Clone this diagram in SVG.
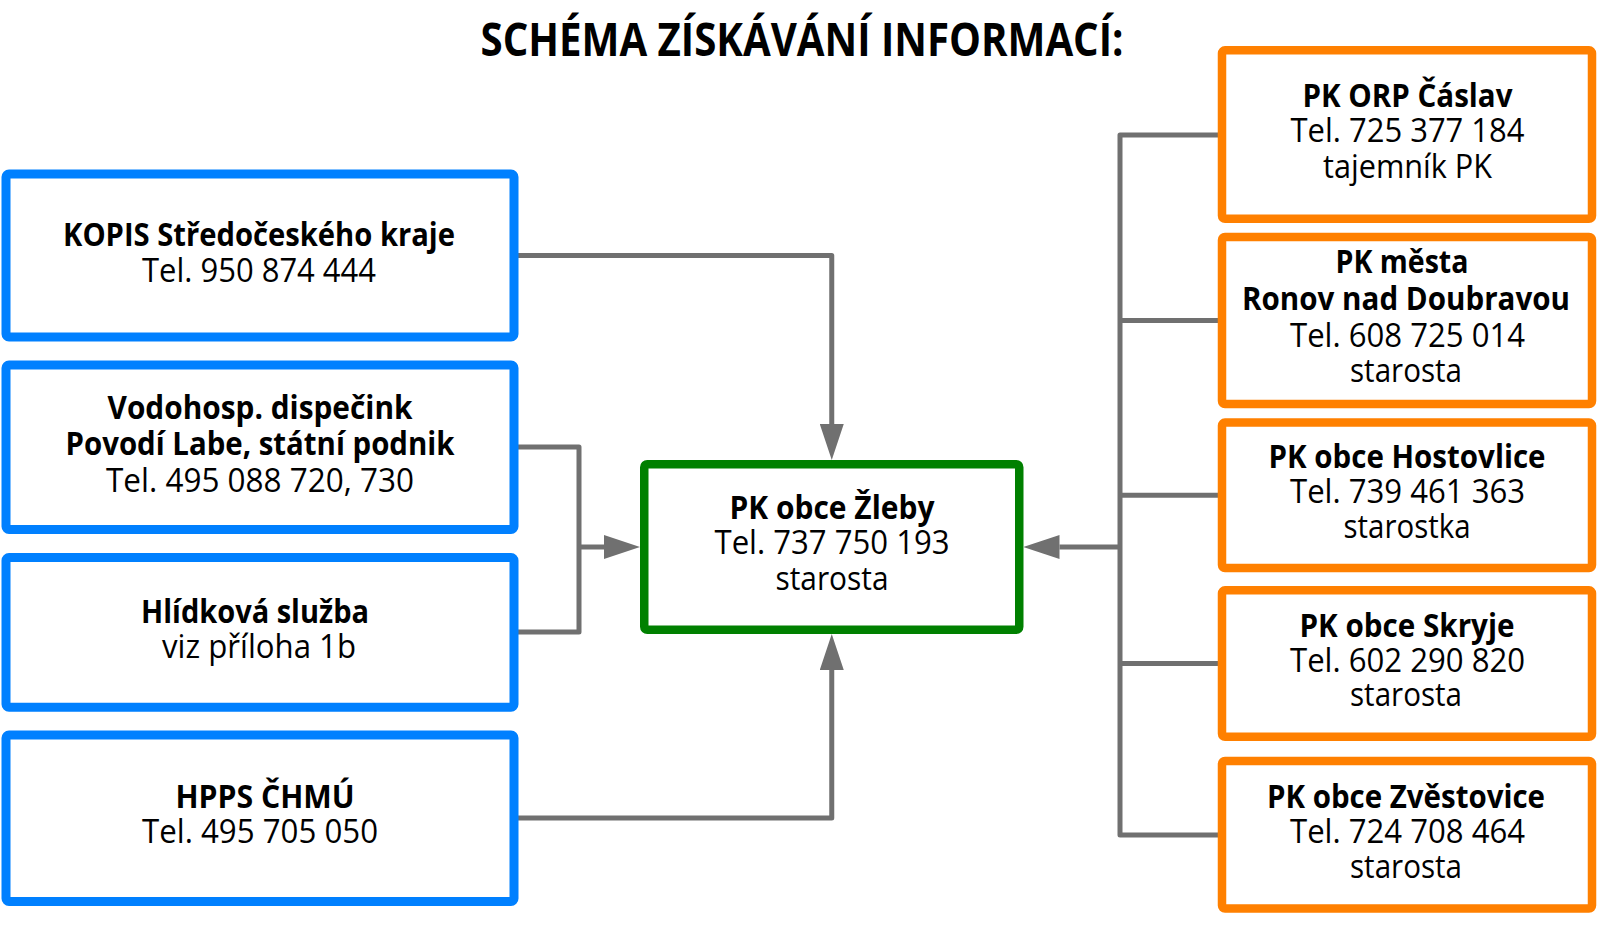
<svg xmlns="http://www.w3.org/2000/svg" width="1600" height="926" viewBox="0 0 1600 926">
<style>
  text { font-family: "Open Sans", "Noto Sans", "Liberation Sans", sans-serif; font-size: 32px; fill: #000; text-anchor: middle; }
  .b { font-weight: 700; }
  .title { font-size: 47px; font-weight: 700; }
  .blue { fill: #fff; stroke: #0080FF; stroke-width: 9; }
  .green { fill: #fff; stroke: #008000; stroke-width: 8.5; }
  .orange { fill: #fff; stroke: #FF8000; stroke-width: 8.5; }
  .conn { fill: none; stroke: #707070; stroke-width: 5; stroke-linejoin: round; }
</style>
<defs>
  <marker id="arr" markerUnits="userSpaceOnUse" markerWidth="36" markerHeight="24" refX="0" refY="12" orient="auto" viewBox="0 0 36 24">
    <path d="M0,0 L36,12 L0,24 z" fill="#707070"/>
  </marker>
</defs>
<rect width="1600" height="926" fill="#fff"/>
<text class="title" x="802" y="56" textLength="643" lengthAdjust="spacingAndGlyphs">SCHÉMA ZÍSKÁVÁNÍ INFORMACÍ:</text>

<g id="connectors">
  <path class="conn" d="M514,255.5 H831.75 V424" marker-end="url(#arr)"/>
  <path class="conn" d="M514,447 H579 V632 H514"/>
  <path class="conn" d="M579,547 H604" marker-end="url(#arr)"/>
  <path class="conn" d="M514,818 H831.75 V670" marker-end="url(#arr)"/>
  <path class="conn" d="M1222,135 H1120 V835 H1222"/>
  <path class="conn" d="M1120,320.5 H1222"/>
  <path class="conn" d="M1120,495.3 H1222"/>
  <path class="conn" d="M1120,663.5 H1222"/>
  <path class="conn" d="M1120,547 H1059.5" marker-end="url(#arr)"/>
</g>

<g id="kopis">
  <rect class="blue" x="6" y="174" width="508" height="163" rx="3"/>
  <text class="b" x="259" y="246" textLength="392" lengthAdjust="spacingAndGlyphs">KOPIS Středočeského kraje</text>
  <text x="259" y="281.7" textLength="234" lengthAdjust="spacingAndGlyphs">Tel. 950 874 444</text>
</g>
<g id="vodohosp">
  <rect class="blue" x="6" y="365" width="508" height="164.5" rx="3"/>
  <text class="b" x="260" y="419.3" textLength="305" lengthAdjust="spacingAndGlyphs">Vodohosp. dispečink</text>
  <text class="b" x="260" y="455" textLength="389" lengthAdjust="spacingAndGlyphs">Povodí Labe, státní podnik</text>
  <text x="260" y="491.7" textLength="308" lengthAdjust="spacingAndGlyphs">Tel. 495 088 720, 730</text>
</g>
<g id="hlidkova">
  <rect class="blue" x="6" y="557.5" width="508" height="149.7" rx="3"/>
  <text class="b" x="255" y="622.5" textLength="228" lengthAdjust="spacingAndGlyphs">Hlídková služba</text>
  <text x="259" y="658" textLength="194" lengthAdjust="spacingAndGlyphs">viz příloha 1b</text>
</g>
<g id="hpps">
  <rect class="blue" x="6" y="735" width="508" height="166.5" rx="3"/>
  <text class="b" x="265" y="807.7" textLength="179" lengthAdjust="spacingAndGlyphs">HPPS ČHMÚ</text>
  <text x="260" y="843.3" textLength="236" lengthAdjust="spacingAndGlyphs">Tel. 495 705 050</text>
</g>

<g id="zleby">
  <rect class="green" x="644.25" y="464.25" width="375" height="165.5" rx="3"/>
  <text class="b" x="832" y="519" textLength="205" lengthAdjust="spacingAndGlyphs">PK obce Žleby</text>
  <text x="832" y="554.3" textLength="235" lengthAdjust="spacingAndGlyphs">Tel. 737 750 193</text>
  <text x="832" y="590" textLength="113" lengthAdjust="spacingAndGlyphs">starosta</text>
</g>

<g id="caslav">
  <rect class="orange" x="1222" y="50.3" width="370" height="168.5" rx="3"/>
  <text class="b" x="1407.5" y="106.7" textLength="210" lengthAdjust="spacingAndGlyphs">PK ORP Čáslav</text>
  <text x="1407.5" y="141.7" textLength="234" lengthAdjust="spacingAndGlyphs">Tel. 725 377 184</text>
  <text x="1407.5" y="177.7" textLength="169" lengthAdjust="spacingAndGlyphs">tajemník PK</text>
</g>
<g id="ronov">
  <rect class="orange" x="1222" y="237" width="370" height="167" rx="3"/>
  <text class="b" x="1402" y="272.7" textLength="133" lengthAdjust="spacingAndGlyphs">PK města</text>
  <text class="b" x="1406" y="310" textLength="328" lengthAdjust="spacingAndGlyphs">Ronov nad Doubravou</text>
  <text x="1407.5" y="346.7" textLength="235" lengthAdjust="spacingAndGlyphs">Tel. 608 725 014</text>
  <text x="1406" y="381.7" textLength="112" lengthAdjust="spacingAndGlyphs">starosta</text>
</g>
<g id="hostovlice">
  <rect class="orange" x="1222" y="422.6" width="370" height="145.5" rx="3"/>
  <text class="b" x="1407" y="468.3" textLength="277" lengthAdjust="spacingAndGlyphs">PK obce Hostovlice</text>
  <text x="1407.5" y="503.3" textLength="235" lengthAdjust="spacingAndGlyphs">Tel. 739 461 363</text>
  <text x="1407" y="538.3" textLength="127" lengthAdjust="spacingAndGlyphs">starostka</text>
</g>
<g id="skryje">
  <rect class="orange" x="1222" y="590.3" width="370" height="146.5" rx="3"/>
  <text class="b" x="1407" y="636.7" textLength="215" lengthAdjust="spacingAndGlyphs">PK obce Skryje</text>
  <text x="1407.5" y="671.7" textLength="235" lengthAdjust="spacingAndGlyphs">Tel. 602 290 820</text>
  <text x="1406" y="706" textLength="112" lengthAdjust="spacingAndGlyphs">starosta</text>
</g>
<g id="zvestovice">
  <rect class="orange" x="1222" y="761" width="370" height="147.5" rx="3"/>
  <text class="b" x="1406" y="808.3" textLength="278" lengthAdjust="spacingAndGlyphs">PK obce Zvěstovice</text>
  <text x="1407.5" y="843.3" textLength="235" lengthAdjust="spacingAndGlyphs">Tel. 724 708 464</text>
  <text x="1406" y="878.3" textLength="112" lengthAdjust="spacingAndGlyphs">starosta</text>
</g>
</svg>
